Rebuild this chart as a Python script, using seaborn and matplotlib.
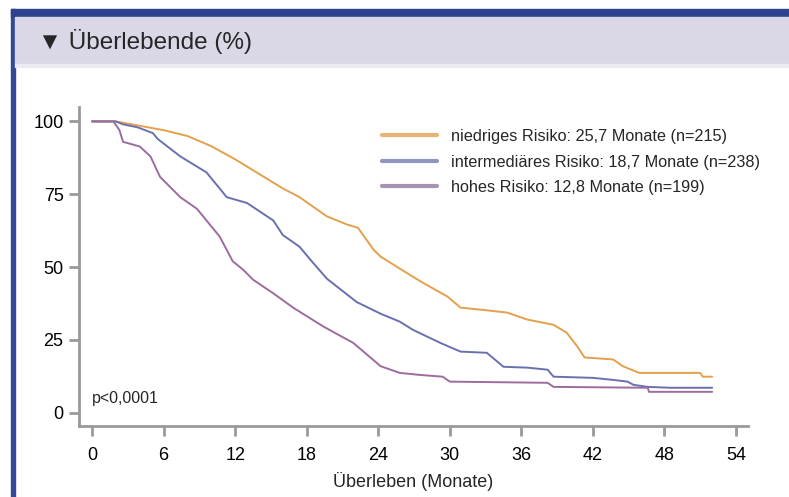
import numpy as np
import pandas as pd
import seaborn as sns
import matplotlib.pyplot as plt
from matplotlib.patches import Rectangle

# survival curves (months, % surviving)
low_t = [0, 2, 4, 6, 8, 10, 12, 14, 16, 17.4, 19.7, 21.4, 22.3, 23.6, 24.2, 26.9, 27.8, 29.8, 30.9,
         32.6, 34.8, 36.5, 38.7, 39.8, 40.7, 41.3, 43.7, 44.5, 45.7, 45.9, 51, 51.2, 52]
low_s = [100, 100, 98.5, 97, 95, 91.5, 87, 82, 77, 74, 67.4, 64.6, 63.5, 56, 53.6, 46.7, 44.5, 39.9, 36.1,
         35.4, 34.4, 32, 30.2, 27.5, 22.7, 19, 18.3, 16, 14, 13.7, 13.7, 12.4, 12.4]

mid_t = [0, 2, 2.6, 3.8, 5.1, 5.5, 7.4, 9.6, 11.3, 13, 15.2, 16, 17.4, 18.3, 19.7, 22.2, 24.2, 25.8,
         26.9, 29.2, 30.9, 33.1, 34.5, 36.5, 38.2, 38.7, 42, 43.7, 44.9, 45.4, 46.6, 48.5, 52]
mid_s = [100, 100, 99, 98, 96, 94, 88, 82.5, 74, 72, 66, 61, 57, 52.6, 46, 38, 34, 31.3,
         28.5, 24, 21, 20.6, 15.8, 15.5, 14.8, 12.4, 12, 11.3, 10.7, 9.6, 8.9, 8.6, 8.6]

high_t = [0, 1.8, 2.3, 2.6, 4, 4.9, 5.7, 7.4, 8.8, 10.7, 11.8, 12.7, 13.5, 15.2, 16.9, 19.4, 21.9,
          24.2, 25.8, 27.5, 29.4, 30, 38.2, 38.7, 46.6, 46.7, 52]
high_s = [100, 100, 97, 93, 91.4, 88, 81, 74, 70, 60.5, 52, 49, 45.7, 41, 36, 29.6, 24,
          16, 13.7, 13, 12.4, 10.7, 10.3, 8.9, 8.6, 7.2, 7.2]

labels = ["niedriges Risiko: 25,7 Monate (n=215)",
          "intermediäres Risiko: 18,7 Monate (n=238)",
          "hohes Risiko: 12,8 Monate (n=199)"]
colors = ["#E4A04C", "#6A70AE", "#9C6C9E"]
legend_colors = ["#E8B374", "#9096BE", "#A892B4"]
x_ticks = [0, 6, 12, 18, 24, 30, 36, 42, 48, 54]
y_ticks = [0, 25, 50, 75, 100]

df = pd.concat([
    pd.DataFrame({"t": low_t, "s": low_s, "g": labels[0]}),
    pd.DataFrame({"t": mid_t, "s": mid_s, "g": labels[1]}),
    pd.DataFrame({"t": high_t, "s": high_s, "g": labels[2]}),
])

sns.set_style("white")
plt.rcParams["font.family"] = ["Liberation Sans", "DejaVu Sans"]

fig = plt.figure(figsize=(7.89, 4.97), dpi=100)
ax = fig.add_axes([0.100, 0.143, 0.848, 0.642])

# frame decoration: blue border + grey title bar
fig.patches.append(Rectangle((11 / 789, 0), 4 / 789, 1 - 9 / 497, transform=fig.transFigure,
                             color="#34489A", zorder=0))
fig.patches.append(Rectangle((11 / 789, 1 - 17 / 497), 1, 8 / 497, transform=fig.transFigure,
                             color="#2E438E", zorder=0))
fig.patches.append(Rectangle((15 / 789, 1 - 64 / 497), 1, 47 / 497, transform=fig.transFigure,
                             color="#DAD8E7", zorder=0))
fig.patches.append(Rectangle((15 / 789, 1 - 67 / 497), 1, 3 / 497, transform=fig.transFigure,
                             color="#ECEBF3", zorder=0))
fig.text(38 / 789, 1 - 42 / 497, "▼ Überlebende (%)", fontsize=17.5, va="center", ha="left",
         family=["Liberation Sans", "DejaVu Sans"])

for lab, c in zip(labels, colors):
    sub = df[df.g == lab]
    sns.lineplot(x=sub.t, y=sub.s, ax=ax, color=c, lw=1.4, estimator=None, sort=False)

ax.set_xlim(-1.1, 55)
ax.set_ylim(-4.5, 105)
ax.set_xticks(x_ticks)
ax.set_yticks(y_ticks)
ax.tick_params(axis="both", labelsize=13, colors="#999999", labelcolor="black",
               length=7, width=2, direction="out", bottom=True, left=True)
ax.tick_params(axis="x", pad=8)
ax.tick_params(axis="y", pad=4)
for side in ["top", "right"]:
    ax.spines[side].set_visible(False)
for side in ["left", "bottom"]:
    ax.spines[side].set_color("#999999")
    ax.spines[side].set_linewidth(2)
ax.set_xlabel("Überleben (Monate)", fontsize=13, labelpad=6)
ax.set_ylabel("")

ax.text(0, 5, "p<0,0001", fontsize=11.5, ha="left", va="center")

handles = [plt.Line2D([], [], color=c, lw=3) for c in legend_colors]
ax.legend(handles, labels, loc="upper left", bbox_to_anchor=(382 / 789, 1 - 129 / 497),
          bbox_transform=fig.transFigure, frameon=False, fontsize=11.7, handlelength=3.4,
          handletextpad=0.85, labelspacing=0.65, borderpad=0, borderaxespad=0)

fig.savefig("out.png", dpi=100)
